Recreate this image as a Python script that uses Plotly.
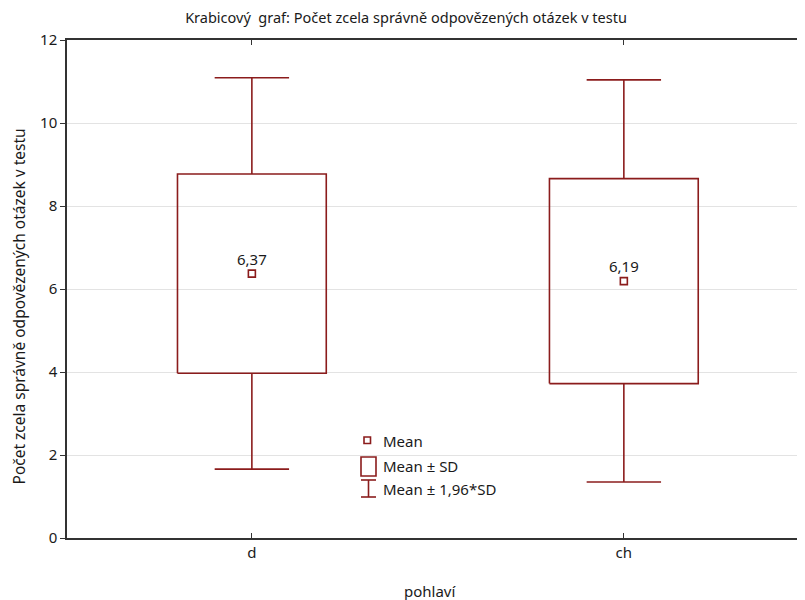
import plotly.graph_objects as go

# Data
categories = ["d", "ch"]
means = [6.37, 6.19]
mean_labels = ["6,37", "6,19"]
sd_low = [3.97, 3.72]
sd_high = [8.77, 8.66]
ci_low = [1.66, 1.35]
ci_high = [11.09, 11.04]
y_ticks = [0, 2, 4, 6, 8, 10, 12]

RED = "#8b1c1c"
TXT = "#1a1a1a"
FONT = "Noto Sans"
BOX_HALF = 0.2
CAP_HALF = 0.1

fig = go.Figure()

for i, cat in enumerate(categories):
    # Mean ± SD box
    fig.add_trace(go.Scatter(
        x=[i - BOX_HALF, i + BOX_HALF, i + BOX_HALF, i - BOX_HALF, i - BOX_HALF],
        y=[sd_low[i], sd_low[i], sd_high[i], sd_high[i], sd_low[i]],
        mode="lines", line=dict(color=RED, width=1.6), showlegend=False, hoverinfo="skip"))
    # whiskers (Mean ± 1,96*SD)
    fig.add_trace(go.Scatter(
        x=[i, i, None, i - CAP_HALF, i + CAP_HALF, None, i, i, None, i - CAP_HALF, i + CAP_HALF],
        y=[sd_high[i], ci_high[i], None, ci_high[i], ci_high[i], None,
           sd_low[i], ci_low[i], None, ci_low[i], ci_low[i]],
        mode="lines", line=dict(color=RED, width=1.6), showlegend=False, hoverinfo="skip"))
    # mean marker
    fig.add_trace(go.Scatter(
        x=[i], y=[means[i]], mode="markers+text",
        marker=dict(symbol="square-open", size=7, color=RED, line=dict(width=1.6, color=RED)),
        text=[mean_labels[i]], textposition="top center",
        textfont=dict(family=FONT, size=15, color=TXT),
        showlegend=False, hoverinfo="skip"))

# The page has an 8px body margin; layout is specified in screen pixels of the reference.
OFF = 8
L, T, W, H = 67, 40, 738, 498
FIG_W, FIG_H = 805 - OFF, 600 - OFF


def px(x):
    return (x - L) / W


def py(y):
    return (T + H - y) / H


shapes = []
shapes.append(dict(type="rect", xref="paper", yref="paper",
                   x0=px(364), x1=px(370.5), y0=py(443.5), y1=py(437),
                   line=dict(color=RED, width=1.6)))
shapes.append(dict(type="rect", xref="paper", yref="paper",
                   x0=px(361), x1=px(376), y0=py(476), y1=py(457),
                   line=dict(color=RED, width=1.6)))
shapes.append(dict(type="line", xref="paper", yref="paper",
                   x0=px(368.5), x1=px(368.5), y0=py(480), y1=py(497),
                   line=dict(color=RED, width=1.6)))
shapes.append(dict(type="line", xref="paper", yref="paper",
                   x0=px(361), x1=px(376), y0=py(480), y1=py(480),
                   line=dict(color=RED, width=1.6)))
shapes.append(dict(type="line", xref="paper", yref="paper",
                   x0=px(361), x1=px(376), y0=py(497), y1=py(497),
                   line=dict(color=RED, width=1.6)))

legend_texts = [("Mean", 441), ("Mean ± SD", 466), ("Mean ± 1,96*SD", 489)]
annotations = []
for txt, yy in legend_texts:
    annotations.append(dict(text=txt, xref="paper", yref="paper", x=px(381), y=py(yy),
                            xanchor="left", yanchor="middle", showarrow=False,
                            font=dict(family=FONT, size=15, color=TXT)))

annotations.append(dict(text="pohlaví", xref="paper", yref="paper", x=px(430), y=py(591),
                        xanchor="center", yanchor="middle", showarrow=False,
                        font=dict(family=FONT, size=15, color=TXT)))
annotations.append(dict(text="Počet zcela správně odpovězených otázek v testu",
                        xref="paper", yref="paper", x=px(18.5), y=py(307), textangle=-90,
                        xanchor="center", yanchor="middle", showarrow=False,
                        font=dict(family=FONT, size=15.5, color=TXT)))

fig.update_layout(
    width=FIG_W, height=FIG_H,
    margin=dict(l=L - OFF, r=0, t=T - OFF, b=FIG_H - (T - OFF) - H),
    paper_bgcolor="white", plot_bgcolor="white",
    font=dict(family=FONT, size=14, color=TXT),
    title=dict(text="Krabicový  graf: Počet zcela správně odpovězených otázek v testu",
               x=(406 - OFF) / FIG_W, xanchor="center", y=1 - (17.5 - OFF) / FIG_H, yanchor="middle",
               font=dict(family=FONT, size=14.5, color=TXT)),
    xaxis=dict(range=[-0.497, 1.487], tickmode="array", tickvals=list(range(len(categories))),
               ticktext=categories, showgrid=False, zeroline=False,
               showline=True, linecolor="#333333", linewidth=1.5, mirror="ticks",
               ticks="inside", ticklen=5, tickcolor="#333333", tickwidth=1.2,
               tickfont=dict(family=FONT, size=15, color=TXT)),
    yaxis=dict(range=[0, 12], tickvals=y_ticks, showgrid=True, gridcolor="#e3e3e3", gridwidth=1.2,
               zeroline=False, showline=True, linecolor="#333333", linewidth=1.5, mirror=False,
               ticks="outside", ticklen=5, tickcolor="#333333", tickwidth=1.2,
               tickfont=dict(family=FONT, size=15, color=TXT)),
    shapes=shapes, annotations=annotations, showlegend=False,
)

fig.write_html("out.html")
